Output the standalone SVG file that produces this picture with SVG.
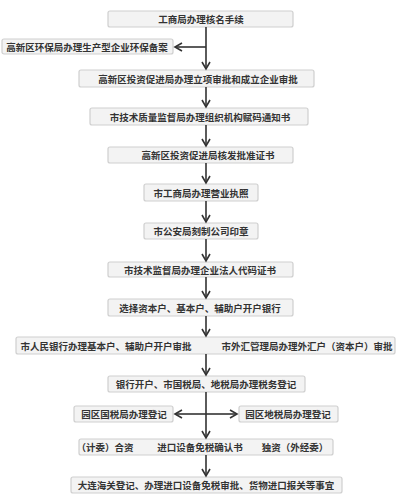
<svg xmlns="http://www.w3.org/2000/svg" width="401" height="500" viewBox="0 0 401 500">
<defs>
<marker id="ah" markerWidth="10" markerHeight="10" refX="8" refY="5" orient="auto" markerUnits="userSpaceOnUse">
<path d="M1,1 L8,5 L1,9" fill="none" stroke="#333" stroke-width="1.6"/>
</marker>
<style>
.box{fill:#f3f3f3;stroke:#cfcfcf;stroke-width:1.2}
.t{font-family:"Noto Sans CJK SC","Noto Sans",sans-serif;font-size:9.5px;font-weight:bold;fill:#333;text-anchor:middle;dominant-baseline:central}
.c{stroke:#333;stroke-width:1.6;fill:none}
</style>
</defs>
<rect width="401" height="500" fill="#fff"/>
<g id="n1"><rect class="box" x="108" y="11" width="185" height="16" rx="2"/><text class="t" x="201" y="19">工商局办理核名手续</text></g>
<g id="n2"><rect class="box" x="2" y="39" width="171" height="15" rx="2"/><text class="t" x="87" y="47">高新区环保局办理生产型企业环保备案</text></g>
<g id="n3"><rect class="box" x="79" y="70" width="235" height="17" rx="2"/><text class="t" x="198" y="79">高新区投资促进局办理立项审批和成立企业审批</text></g>
<g id="n4"><rect class="box" x="90" y="108" width="218" height="17" rx="2"/><text class="t" x="200" y="117">市技术质量监督局办理组织机构赋码通知书</text></g>
<g id="n5"><rect class="box" x="108" y="147" width="185" height="16" rx="2"/><text class="t" x="208" y="155">高新区投资促进局核发批准证书</text></g>
<g id="n6"><rect class="box" x="144" y="184" width="114" height="17" rx="2"/><text class="t" x="201" y="193">市工商局办理营业执照</text></g>
<g id="n7"><rect class="box" x="144" y="223" width="114" height="16" rx="2"/><text class="t" x="201" y="231">市公安局刻制公司印章</text></g>
<g id="n8"><rect class="box" x="108" y="262" width="185" height="15" rx="2"/><text class="t" x="200" y="270">市技术监督局办理企业法人代码证书</text></g>
<g id="n9"><rect class="box" x="108" y="299" width="185" height="17" rx="2"/><text class="t" x="200" y="308">选择资本户、基本户、辅助户开户银行</text></g>
<g id="n10"><rect class="box" x="16" y="337" width="379" height="17" rx="2"/><text class="t" x="106" y="346">市人民银行办理基本户、辅助户开户审批</text><text class="t" x="307" y="346">市外汇管理局办理外汇户（资本户）审批</text></g>
<g id="n11"><rect class="box" x="108" y="376" width="197" height="16" rx="2"/><text class="t" x="206" y="384">银行开户、市国税局、地税局办理税务登记</text></g>
<g id="n12a"><rect class="box" x="74" y="406" width="99" height="16" rx="2"/><text class="t" x="124" y="414">园区国税局办理登记</text></g>
<g id="n12b"><rect class="box" x="239" y="406" width="99" height="16" rx="2"/><text class="t" x="288" y="414">园区地税局办理登记</text></g>
<g id="n13"><rect class="box" x="79" y="439" width="254" height="16" rx="2"/><text class="t" x="105" y="447">（计委）合资</text><text class="t" x="200" y="447">进口设备免税确认书</text><text class="t" x="295" y="447">独资（外经委）</text></g>
<g id="n14"><rect class="box" x="71" y="477" width="271" height="16" rx="2"/><text class="t" x="206" y="485">大连海关登记、办理进口设备免税审批、货物进口报关等事宜</text></g>
<g id="connectors">
<line class="c" x1="206" y1="27" x2="206" y2="69" marker-end="url(#ah)"/>
<line class="c" x1="206" y1="47" x2="175" y2="47" marker-end="url(#ah)"/>
<line class="c" x1="206" y1="87" x2="206" y2="107" marker-end="url(#ah)"/>
<line class="c" x1="206" y1="125" x2="206" y2="146" marker-end="url(#ah)"/>
<line class="c" x1="206" y1="163" x2="206" y2="183" marker-end="url(#ah)"/>
<line class="c" x1="206" y1="201" x2="206" y2="222" marker-end="url(#ah)"/>
<line class="c" x1="206" y1="239" x2="206" y2="261" marker-end="url(#ah)"/>
<line class="c" x1="206" y1="277" x2="206" y2="298" marker-end="url(#ah)"/>
<line class="c" x1="206" y1="316" x2="206" y2="336" marker-end="url(#ah)"/>
<line class="c" x1="206" y1="354" x2="206" y2="375" marker-end="url(#ah)"/>
<line class="c" x1="206" y1="392" x2="206" y2="438" marker-end="url(#ah)"/>
<line class="c" x1="206" y1="414" x2="175" y2="414" marker-end="url(#ah)"/>
<line class="c" x1="206" y1="414" x2="237" y2="414" marker-end="url(#ah)"/>
<line class="c" x1="206" y1="455" x2="206" y2="476" marker-end="url(#ah)"/>
</g>
</svg>
